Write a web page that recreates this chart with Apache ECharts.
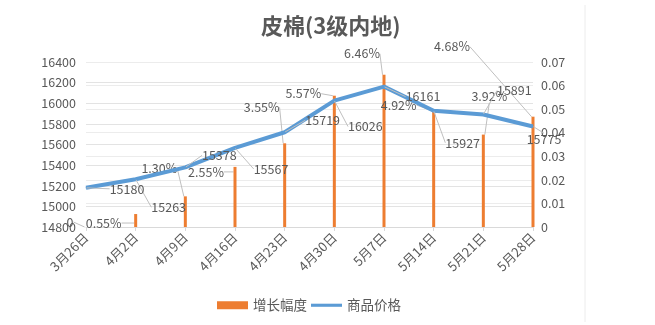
<!DOCTYPE html>
<html><head><meta charset="utf-8">
<script src="https://cdn.jsdelivr.net/npm/echarts@6/dist/echarts.min.js"></script>
<style>html,body{margin:0;padding:0;background:#fff}#c{width:655px;height:325px}</style>
</head><body><div id="c"></div>
<script>
const categories = ['3月26日','4月2日','4月9日','4月16日','4月23日','4月30日','5月7日','5月14日','5月21日','5月28日'];
const growth = [0, 0.0055, 0.0130, 0.0255, 0.0355, 0.0557, 0.0646, 0.0492, 0.0392, 0.0468];
const price = [15180, 15263, 15378, 15567, 15719, 16026, 16161, 15927, 15891, 15775];
const leftTicks = {min: 14800, max: 16400, interval: 200};
const rightTicks = {min: 0, max: 0.07, interval: 0.01};

// label offsets (label centre relative to anchor point), styling only
const lineLabelOffsets = [[41,1],[33,28],[34,-12],[36,21],[38,-12],[31,26],[39,10],[29,32],[31,-24],[11,13]];
const barLabelOffsets = [[-16,-5],[-32,9],[-26,-28],[-29,5],[-23,-36],[-31,-2],[-22,-21],[-35,-6],[6,-38],[-81,-70]];

const txt = '#595959';
const ff = '"Noto Sans CJK SC", "Liberation Sans", sans-serif';
const chart = echarts.init(document.getElementById('c'), null, {renderer: 'canvas'});
chart.setOption({
  animation: false,
  textStyle: {fontFamily: ff},
  title: {text: '皮棉(3级内地)', left: 256, top: 10,
    textStyle: {fontSize: 22, fontWeight: 'bold', color: txt, fontFamily: ff}},
  grid: {left: 86, right: 122, top: 62, bottom: 98},
  legend: {bottom: 8, left: 212, itemWidth: 31, itemHeight: 8, itemGap: 4,
    textStyle: {color: txt, fontSize: 13.5},
    data: [{name: '增长幅度', icon: 'rect'},
           {name: '商品价格', icon: 'path://M0,0 L30,0 L30,3 L0,3 Z'}]},
  graphic: [{type: 'line', shape: {x1: 585, y1: 5, x2: 585, y2: 322}, style: {stroke: '#ececec', lineWidth: 1}}],
  xAxis: {type: 'category', data: categories, boundaryGap: false,
    axisLine: {lineStyle: {color: '#d9d9d9'}},
    axisTick: {show: true, length: 4, lineStyle: {color: '#d9d9d9'}},
    axisLabel: {rotate: 45, color: txt, fontSize: 13, margin: 8}},
  yAxis: [
    {type: 'value', min: leftTicks.min, max: leftTicks.max, interval: leftTicks.interval,
      axisLine: {show: false}, axisTick: {show: false},
      axisLabel: {color: txt, fontSize: 12.5, margin: 10, formatter: v => String(v)},
      splitLine: {lineStyle: {color: '#e3e3e3'}}},
    {type: 'value', min: rightTicks.min, max: rightTicks.max, interval: rightTicks.interval,
      axisLine: {show: false}, axisTick: {show: false},
      axisLabel: {color: txt, fontSize: 12.5, margin: 8,
        formatter: v => v === 0 ? '0' : v.toFixed(2)},
      splitLine: {show: true, lineStyle: {color: '#ececec'}}}
  ],
  series: [
    {name: '增长幅度', type: 'bar', yAxisIndex: 1, data: growth, barWidth: 3,
      itemStyle: {color: '#ED7D31'}, z: 2,
      label: {show: true, position: 'top', color: txt, fontSize: 12.5,
        formatter: p => p.value === 0 ? '0' : (p.value * 100).toFixed(2) + '%'},
      labelLine: {show: true, lineStyle: {color: '#bfbfbf', width: 1}},
      labelLayout: p => {
        const o = barLabelOffsets[p.dataIndex];
        const ax = p.rect.x + p.rect.width / 2, ay = p.rect.y;
        return {x: ax + o[0], y: ay + o[1], align: 'center', verticalAlign: 'middle'};
      }},
    {name: '商品价格', type: 'line', yAxisIndex: 0, data: price,
      lineStyle: {color: '#5B9BD5', width: 4}, itemStyle: {color: '#5B9BD5'},
      symbol: 'circle', symbolSize: 1, showSymbol: true, z: 3,
      label: {show: true, color: txt, fontSize: 12.5},
      labelLine: {show: true, lineStyle: {color: '#bfbfbf', width: 1}},
      labelLayout: p => {
        const o = lineLabelOffsets[p.dataIndex];
        const ax = p.rect.x + p.rect.width / 2, ay = p.rect.y + p.rect.height / 2;
        return {x: ax + o[0], y: ay + o[1], align: 'center', verticalAlign: 'middle'};
      }}
  ]
});
</script></body></html>
